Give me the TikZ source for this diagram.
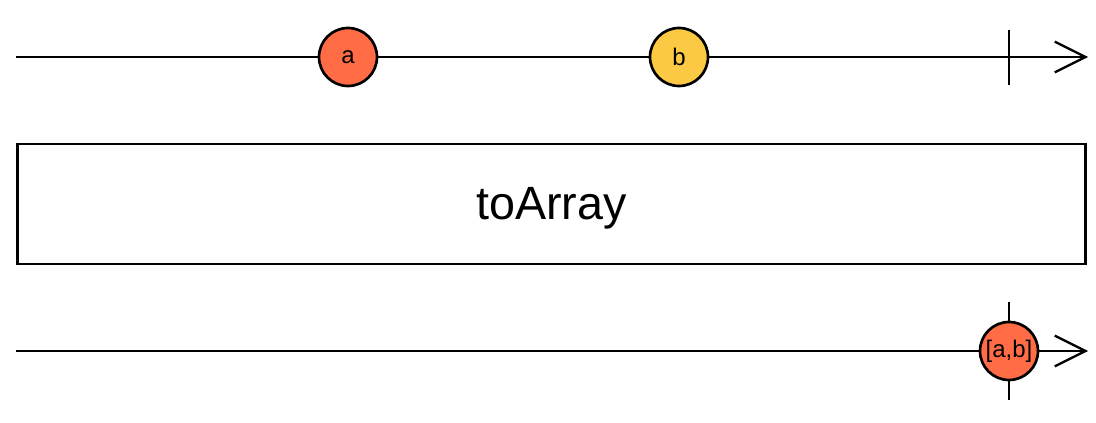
\documentclass[tikz,border=0pt]{standalone}
\usepackage{fontspec}
\setmainfont{Liberation Sans}
\usetikzlibrary{arrows.meta}
\definecolor{marbleA}{HTML}{FF6C46}
\definecolor{marbleB}{HTML}{FCC944}
\tikzset{
  timeline/.style={line width=1.75pt, -{Straight Barb[length=23pt, width=23pt, line width=1.75pt]}},
  tick/.style={line width=1.75pt},
  marble/.style={circle, draw, line width=2pt, minimum size=43.5pt, inner sep=0pt, font=\fontsize{18}{18}\selectfont},
  opbox/.style={draw, line width=1.9pt, minimum width=801pt, minimum height=90pt, inner sep=0pt},
  optext/.style={font=\fontsize{35}{35}\selectfont}
}
\begin{document}
\begin{tikzpicture}[x=0.75pt, y=-0.75pt]
\useasboundingbox (0,0) rectangle (1096,423);
% top timeline
\coordinate (t0) at (16,57);
\coordinate (t1) at (1088,57);
\coordinate (tk1) at (1009,30);
\coordinate (tk2) at (1009,85);
\draw[timeline] (t0) -- (t1);
\draw[tick] (tk1) -- (tk2);
\node[marble, fill=marbleA] (a) at (348,57) {a};
\node[marble, fill=marbleB] (b) at (679,57) {b};
% operator box
\node[opbox] (op) at (551.5,204) {};
\node[optext, anchor=base] (opt) at (551.5,220) {toArray};
% bottom timeline
\coordinate (u0) at (16,351);
\coordinate (u1) at (1088,351);
\coordinate (uk1) at (1009,302);
\coordinate (uk2) at (1009,400);
\draw[timeline] (u0) -- (u1);
\draw[tick] (uk1) -- (uk2);
\node[marble, fill=marbleA] (ab) at (1009,351) {[a,b]};
\end{tikzpicture}
\end{document}
